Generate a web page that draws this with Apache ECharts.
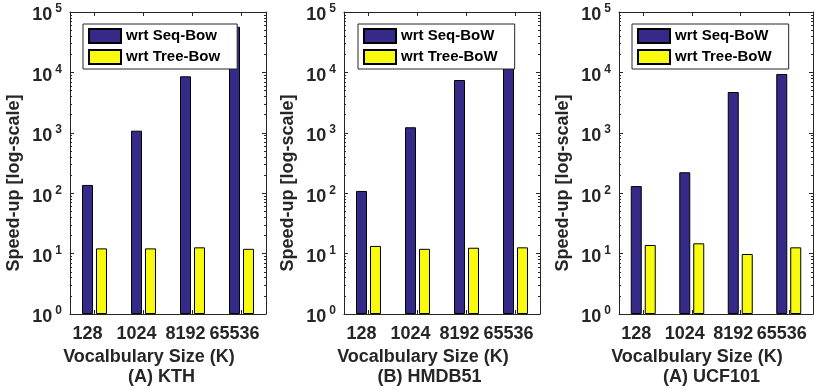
<!DOCTYPE html>
<html>
<head>
<meta charset="utf-8">
<script src="https://cdn.jsdelivr.net/npm/echarts@6/dist/echarts.min.js"></script>
<style>
  html, body { margin: 0; padding: 0; background: #fff; }
  #main { width: 815px; height: 390px; }
</style>
</head>
<body>
<div id="main"></div>
<script>
// 词表大小
var cats = ['128', '1024', '8192', '65536'];

// KTH
var kthSeq = [137, 1084, 8610, 57000];
var kthTree = [12.2, 12.2, 12.7, 12.0];
// HMDB51 (last blue bar is hidden by the legend)
var hmdbSeq = [109, 1235, 7480, 45000];
var hmdbTree = [13.4, 12.0, 12.5, 12.7];
// UCF101
var ucfSeq = [131, 222, 4730, 9410];
var ucfTree = [13.9, 14.8, 9.85, 12.7];

var majorTicks = [1, 10, 100, 1000, 10000, 100000];
var minorTicks = [];
for (var d = 1; d < 100000; d *= 10) {
    for (var m = 2; m <= 9; m++) minorTicks.push(m * d);
}

var panels = [
    { left: 70, width: 196, seq: kthSeq, tree: kthTree, names: ['wrt Seq-Bow', 'wrt Tree-Bow'], title: '(A) KTH', titleX: 161.5, legendLeft: 83 },
    { left: 344, width: 196, seq: hmdbSeq, tree: hmdbTree, names: ['wrt Seq-BoW', 'wrt Tree-BoW'], title: '(B) HMDB51', titleX: 429.5, legendLeft: 358 },
    { left: 619, width: 194, seq: ucfSeq, tree: ucfTree, names: ['wrt Seq-BoW', 'wrt Tree-BoW'], title: '(A) UCF101', titleX: 711.5, legendLeft: 632 }
];

var FONT = "'Liberation Sans', Arial, sans-serif";
var INK = '#262626';

var myChart = echarts.init(document.getElementById('main'));

var grid = [], xAxis = [], yAxis = [], series = [], legend = [], graphic = [];

panels.forEach(function (p, i) {
    grid.push({ left: p.left, top: 12, width: p.width, height: 302 });

    // 下方坐标轴
    xAxis.push({
        type: 'category',
        gridIndex: i,
        data: cats,
        axisLine: { lineStyle: { color: INK, width: 1 } },
        axisTick: { show: true, inside: true, alignWithLabel: true, length: 4, lineStyle: { color: INK } },
        axisLabel: {
            interval: 0,
            color: INK, fontFamily: FONT, fontWeight: 'bold', fontSize: 18,
            margin: 11, padding: [0, 14, 0, 0]
        },
        name: 'Vocalbulary Size (K)',
        nameLocation: 'middle',
        nameGap: 31,
        nameTextStyle: {
            color: INK, fontFamily: FONT, fontWeight: 'bold', fontSize: 18,
            padding: [0, 38, 0, 0]
        }
    });
    // 上方边框
    xAxis.push({
        type: 'category',
        gridIndex: i,
        position: 'top',
        data: cats,
        axisLine: { lineStyle: { color: INK, width: 1 } },
        axisTick: { show: true, inside: true, alignWithLabel: true, length: 4, lineStyle: { color: INK } },
        axisLabel: { show: false }
    });

    var logBase = {
        type: 'log',
        logBase: 10,
        gridIndex: i,
        min: 1,
        max: 100000,
        splitLine: { show: false }
    };

    yAxis.push(Object.assign({}, logBase, {
        position: 'left',
        axisLine: { show: true, lineStyle: { color: INK, width: 1 } },
        axisTick: { show: true, inside: true, length: 4, lineStyle: { color: INK }, customValues: majorTicks },
        axisLabel: {
            margin: 8,
            customValues: majorTicks,
            formatter: function (v) {
                return '{b|10}{s|' + Math.round(Math.log(v) / Math.LN10) + '}';
            },
            rich: {
                b: { color: INK, fontFamily: FONT, fontWeight: 'bold', fontSize: 18, padding: [7, 0, 0, 0] },
                s: { color: INK, fontFamily: FONT, fontWeight: 'bold', fontSize: 12, padding: [0, 0, 6, 3] }
            }
        },
        name: 'Speed-up [log-scale]',
        nameLocation: 'middle',
        nameGap: 47,
        nameTextStyle: {
            color: INK, fontFamily: FONT, fontWeight: 'bold', fontSize: 18,
            padding: [0, 40, 0, 0]
        }
    }));
    yAxis.push(Object.assign({}, logBase, {
        position: 'right',
        axisLine: { show: true, lineStyle: { color: INK, width: 1 } },
        axisTick: { show: true, inside: true, length: 4, lineStyle: { color: INK }, customValues: majorTicks },
        axisLabel: { show: false }
    }));
    // 次刻度
    yAxis.push(Object.assign({}, logBase, {
        position: 'left',
        axisLine: { show: false },
        axisTick: { show: true, inside: true, length: 2, lineStyle: { color: INK }, customValues: minorTicks },
        axisLabel: { show: false }
    }));
    yAxis.push(Object.assign({}, logBase, {
        position: 'right',
        axisLine: { show: false },
        axisTick: { show: true, inside: true, length: 2, lineStyle: { color: INK }, customValues: minorTicks },
        axisLabel: { show: false }
    }));

    series.push({
        name: p.names[0],
        type: 'bar',
        xAxisIndex: 2 * i,
        yAxisIndex: 4 * i,
        data: p.seq,
        barWidth: 11,
        barGap: '27%',
        itemStyle: { color: '#352A87', borderColor: '#000', borderWidth: 1 }
    });
    series.push({
        name: p.names[1],
        type: 'bar',
        xAxisIndex: 2 * i,
        yAxisIndex: 4 * i,
        data: p.tree,
        barWidth: 11,
        barGap: '27%',
        itemStyle: { color: '#F9FB0E', borderColor: '#000', borderWidth: 1 }
    });

    legend.push({
        data: p.names,
        orient: 'vertical',
        left: p.legendLeft,
        top: 24,
        icon: 'rect',
        itemWidth: 32,
        itemHeight: 14,
        itemGap: 5,
        padding: [4, 17, 4, 5],
        backgroundColor: '#fff',
        borderColor: INK,
        borderWidth: 1,
        borderRadius: 0,
        selectedMode: false,
        textStyle: { color: '#000', fontFamily: FONT, fontWeight: 'bold', fontSize: 15 }
    });

    graphic.push({
        type: 'text',
        x: p.titleX,
        y: 377,
        style: {
            text: p.title,
            fill: INK,
            font: 'bold 18px ' + FONT,
            textAlign: 'center',
            textVerticalAlign: 'middle'
        }
    });
});

var option = {
    animation: false,
    backgroundColor: '#fff',
    grid: grid,
    xAxis: xAxis,
    yAxis: yAxis,
    legend: legend,
    series: series,
    graphic: graphic
};

myChart.setOption(option);
window.addEventListener('resize', function () {
    myChart.resize();
});
</script>
</body>
</html>
